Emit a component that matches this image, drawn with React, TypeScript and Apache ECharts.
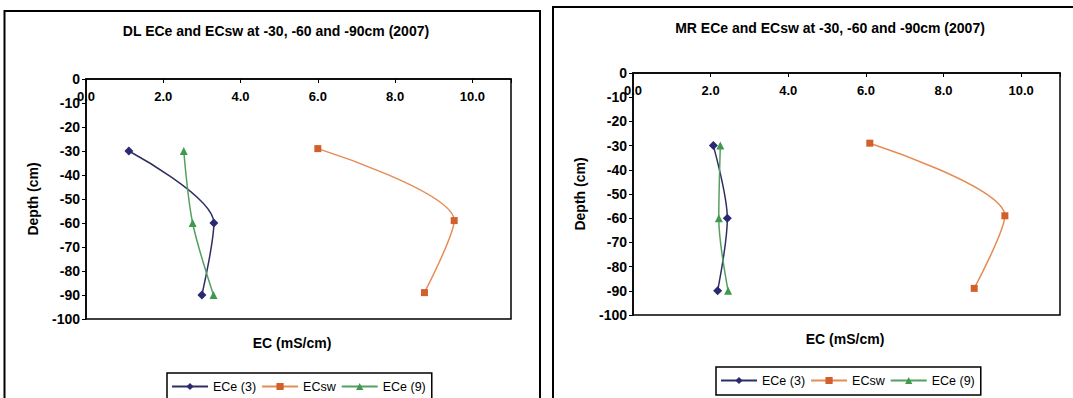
import React, { useEffect, useRef } from "react";
import * as echarts from "echarts";

const seriesNames = ["ECe (3)", "ECsw", "ECe (9)"];
const depthsECe = [-30, -60, -90];
const depthsECsw = [-29, -59, -89];
const dlECe3 = [1.11, 3.31, 3.0];
const dlECsw = [6.0, 9.53, 8.76];
const dlECe9 = [2.53, 2.76, 3.3];
const mrECe3 = [2.07, 2.43, 2.18];
const mrECsw = [6.1, 9.58, 8.79];
const mrECe9 = [2.25, 2.21, 2.45];
const titles = [
  "DL ECe and ECsw at -30, -60 and -90cm (2007)",
  "MR ECe and ECsw at -30, -60 and -90cm (2007)",
];
const xAxisTitle = "EC (mS/cm)";
const yAxisTitle = "Depth (cm)";

const FONT = "'Liberation Sans', Arial, sans-serif";
const lineColors = ["#2e2e62", "#e58c55", "#55a060"];
const markColors = ["#2a2a72", "#d2602c", "#3f9a4f"];
const symbols = ["diamond", "rect", "triangle"];
const symbolSizes = [9, 7, 8];

function pairs(xs: number[], ys: number[]) {
  return xs.map((x, i) => [x, ys[i]]);
}

export default function App() {
  const ref = useRef<HTMLDivElement>(null);
  useEffect(() => {
    if (!ref.current) return;
    const chart = echarts.init(ref.current, null, { renderer: "svg" });
    const grids = [
      { left: 86, top: 79, width: 425, height: 240 },
      { left: 633, top: 73, width: 427, height: 242 },
    ];
    const mkX = (gi: number) => ({
      type: "value",
      gridIndex: gi,
      min: 0,
      max: 11,
      interval: 2,
      position: "top",
      axisLine: { show: true, lineStyle: { color: "#000", width: 1.5 } },
      axisTick: { show: true, inside: true, length: 4, lineStyle: { color: "#000" } },
      axisLabel: {
        inside: true,
        margin: 11,
        fontSize: 13,
        fontWeight: "bold",
        color: "#000",
        fontFamily: FONT,
        formatter: (v: number) => (v % 2 === 0 ? v.toFixed(1) : ""),
      },
      splitLine: { show: false },
    });
    const mkY = (gi: number) => ({
      type: "value",
      gridIndex: gi,
      min: -100,
      max: 0,
      interval: 10,
      axisLine: { show: true, lineStyle: { color: "#000", width: 1.5 } },
      axisTick: { show: true, length: 4, lineStyle: { color: "#000" } },
      axisLabel: {
        margin: 6,
        fontSize: 14,
        fontWeight: "bold",
        color: "#000",
        fontFamily: FONT,
      },
      splitLine: { show: false },
      name: yAxisTitle,
      nameLocation: "middle",
      nameRotate: 90,
      nameGap: 46,
      nameTextStyle: { fontSize: 14, fontWeight: "bold", color: "#000", fontFamily: FONT },
    });
    const dataSets = [
      [pairs(dlECe3, depthsECe), pairs(dlECsw, depthsECsw), pairs(dlECe9, depthsECe)],
      [pairs(mrECe3, depthsECe), pairs(mrECsw, depthsECsw), pairs(mrECe9, depthsECe)],
    ];
    const series: any[] = [];
    dataSets.forEach((ds, gi) => {
      ds.forEach((d, si) => {
        series.push({
          type: "line",
          name: seriesNames[si],
          xAxisIndex: gi,
          yAxisIndex: gi,
          data: d,
          smooth: 0.3,
          symbol: symbols[si],
          symbolSize: symbolSizes[si],
          lineStyle: { color: lineColors[si], width: 1.5 },
          itemStyle: { color: markColors[si] },
          emphasis: { disabled: true },
        });
      });
    });
    const legendBase = {
      orient: "horizontal",
      borderColor: "#000",
      borderWidth: 1.5,
      padding: [7, 6, 8, 4],
      itemWidth: 36,
      itemHeight: 9,
      itemGap: 5,
      textStyle: { fontSize: 12.5, color: "#000", fontFamily: FONT },
      data: seriesNames,
      selectedMode: false,
    };
    chart.setOption({
      animation: false,
      backgroundColor: "#fff",
      title: [
        {
          text: titles[0],
          left: 271,
          top: 19,
          textAlign: "center",
          textStyle: { fontSize: 14, fontWeight: "bold", color: "#000", fontFamily: FONT },
        },
        {
          text: titles[1],
          left: 825,
          top: 16,
          textAlign: "center",
          textStyle: { fontSize: 14, fontWeight: "bold", color: "#000", fontFamily: FONT },
        },
      ],
      grid: grids.map((g) => ({
        ...g,
        show: true,
        borderColor: "#000",
        borderWidth: 1.5,
        backgroundColor: "transparent",
      })),
      xAxis: [mkX(0), mkX(1)],
      yAxis: [mkY(0), mkY(1)],
      legend: [
        { ...legendBase, left: 167, top: 373 },
        { ...legendBase, left: 716, top: 367 },
      ],
      graphic: [
        {
          type: "rect",
          shape: { x: 4.5, y: 11, width: 535.5, height: 400 },
          style: { fill: "none", stroke: "#000", lineWidth: 2 },
          silent: true,
        },
        {
          type: "rect",
          shape: { x: 553, y: 7, width: 540, height: 400 },
          style: { fill: "none", stroke: "#000", lineWidth: 2 },
          silent: true,
        },
        {
          type: "text",
          x: 292,
          y: 343,
          style: {
            text: xAxisTitle,
            fontSize: 14,
            fontWeight: "bold",
            fill: "#000",
            fontFamily: FONT,
            textAlign: "center",
            textVerticalAlign: "middle",
          },
        },
        {
          type: "text",
          x: 845,
          y: 339,
          style: {
            text: xAxisTitle,
            fontSize: 14,
            fontWeight: "bold",
            fill: "#000",
            fontFamily: FONT,
            textAlign: "center",
            textVerticalAlign: "middle",
          },
        },
      ],
      series,
    });
    return () => chart.dispose();
  }, []);
  return (
    <div
      ref={ref}
      style={{ position: "absolute", left: 0, top: 0, width: 1073, height: 398 }}
    />
  );
}
